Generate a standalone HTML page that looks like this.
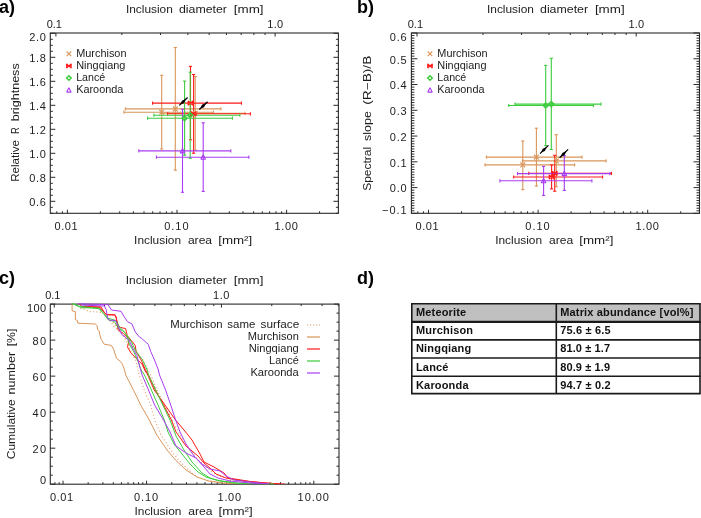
<!DOCTYPE html>
<html><head><meta charset="utf-8"><style>html,body{margin:0;padding:0;background:#fff;width:701px;height:518px;overflow:hidden;position:relative}svg{will-change:transform}text{font-family:"Liberation Sans", sans-serif}</style></head><body>
<svg width="701" height="518" viewBox="0 0 701 518" style="position:absolute;left:0;top:0" font-family='"Liberation Sans", sans-serif'>
<rect width="701" height="518" fill="#fff"/>
<text x="-1.00" y="13.00" font-size="18" text-anchor="start" font-weight="bold" fill="#000">a)</text>
<text x="357.00" y="12.70" font-size="18" text-anchor="start" font-weight="bold" fill="#000">b)</text>
<text x="-1.00" y="284.10" font-size="18" text-anchor="start" font-weight="bold" fill="#000">c)</text>
<text x="357.00" y="284.10" font-size="18" text-anchor="start" font-weight="bold" fill="#000">d)</text>
<rect x="50.30" y="33.00" width="288.10" height="180.30" fill="none" stroke="#2a2a2a" stroke-width="1.1"/>
<line x1="56.78" y1="213.30" x2="56.78" y2="211.30" stroke="#2a2a2a" stroke-width="1"/>
<line x1="62.38" y1="213.30" x2="62.38" y2="211.30" stroke="#2a2a2a" stroke-width="1"/>
<line x1="67.40" y1="213.30" x2="67.40" y2="209.80" stroke="#2a2a2a" stroke-width="1"/>
<line x1="100.39" y1="213.30" x2="100.39" y2="211.30" stroke="#2a2a2a" stroke-width="1"/>
<line x1="119.69" y1="213.30" x2="119.69" y2="211.30" stroke="#2a2a2a" stroke-width="1"/>
<line x1="133.39" y1="213.30" x2="133.39" y2="211.30" stroke="#2a2a2a" stroke-width="1"/>
<line x1="144.01" y1="213.30" x2="144.01" y2="211.30" stroke="#2a2a2a" stroke-width="1"/>
<line x1="152.69" y1="213.30" x2="152.69" y2="211.30" stroke="#2a2a2a" stroke-width="1"/>
<line x1="160.02" y1="213.30" x2="160.02" y2="211.30" stroke="#2a2a2a" stroke-width="1"/>
<line x1="166.38" y1="213.30" x2="166.38" y2="211.30" stroke="#2a2a2a" stroke-width="1"/>
<line x1="171.98" y1="213.30" x2="171.98" y2="211.30" stroke="#2a2a2a" stroke-width="1"/>
<line x1="177.00" y1="213.30" x2="177.00" y2="209.80" stroke="#2a2a2a" stroke-width="1"/>
<line x1="209.99" y1="213.30" x2="209.99" y2="211.30" stroke="#2a2a2a" stroke-width="1"/>
<line x1="229.29" y1="213.30" x2="229.29" y2="211.30" stroke="#2a2a2a" stroke-width="1"/>
<line x1="242.99" y1="213.30" x2="242.99" y2="211.30" stroke="#2a2a2a" stroke-width="1"/>
<line x1="253.61" y1="213.30" x2="253.61" y2="211.30" stroke="#2a2a2a" stroke-width="1"/>
<line x1="262.29" y1="213.30" x2="262.29" y2="211.30" stroke="#2a2a2a" stroke-width="1"/>
<line x1="269.62" y1="213.30" x2="269.62" y2="211.30" stroke="#2a2a2a" stroke-width="1"/>
<line x1="275.98" y1="213.30" x2="275.98" y2="211.30" stroke="#2a2a2a" stroke-width="1"/>
<line x1="281.58" y1="213.30" x2="281.58" y2="211.30" stroke="#2a2a2a" stroke-width="1"/>
<line x1="286.60" y1="213.30" x2="286.60" y2="209.80" stroke="#2a2a2a" stroke-width="1"/>
<line x1="319.59" y1="213.30" x2="319.59" y2="211.30" stroke="#2a2a2a" stroke-width="1"/>
<line x1="55.90" y1="33.00" x2="55.90" y2="36.50" stroke="#2a2a2a" stroke-width="1"/>
<line x1="121.89" y1="33.00" x2="121.89" y2="35.00" stroke="#2a2a2a" stroke-width="1"/>
<line x1="160.49" y1="33.00" x2="160.49" y2="35.00" stroke="#2a2a2a" stroke-width="1"/>
<line x1="187.87" y1="33.00" x2="187.87" y2="35.00" stroke="#2a2a2a" stroke-width="1"/>
<line x1="209.12" y1="33.00" x2="209.12" y2="35.00" stroke="#2a2a2a" stroke-width="1"/>
<line x1="226.47" y1="33.00" x2="226.47" y2="35.00" stroke="#2a2a2a" stroke-width="1"/>
<line x1="241.15" y1="33.00" x2="241.15" y2="35.00" stroke="#2a2a2a" stroke-width="1"/>
<line x1="253.86" y1="33.00" x2="253.86" y2="35.00" stroke="#2a2a2a" stroke-width="1"/>
<line x1="265.07" y1="33.00" x2="265.07" y2="35.00" stroke="#2a2a2a" stroke-width="1"/>
<line x1="275.10" y1="33.00" x2="275.10" y2="36.50" stroke="#2a2a2a" stroke-width="1"/>
<text x="125.90" y="12.60" font-size="11" font-weight="normal" fill="#1c1c1c" textLength="46.9" lengthAdjust="spacingAndGlyphs">Inclusion</text>
<text x="178.90" y="12.60" font-size="11" font-weight="normal" fill="#1c1c1c" textLength="48.1" lengthAdjust="spacingAndGlyphs">diameter</text>
<text x="233.80" y="12.60" font-size="11" font-weight="normal" fill="#1c1c1c" textLength="29.8" lengthAdjust="spacingAndGlyphs">[mm]</text>
<text x="46.70" y="27.90" font-size="11" text-anchor="start" font-weight="normal" fill="#1c1c1c" textLength="15.2" lengthAdjust="spacing">0.1</text>
<text x="267.30" y="28.20" font-size="11" text-anchor="start" font-weight="normal" fill="#1c1c1c" textLength="15.8" lengthAdjust="spacing">1.0</text>
<text x="54.50" y="230.00" font-size="11" text-anchor="start" font-weight="normal" fill="#1c1c1c" textLength="23.0" lengthAdjust="spacing">0.01</text>
<text x="164.20" y="230.00" font-size="11" text-anchor="start" font-weight="normal" fill="#1c1c1c" textLength="24.3" lengthAdjust="spacing">0.10</text>
<text x="274.40" y="230.00" font-size="11" text-anchor="start" font-weight="normal" fill="#1c1c1c" textLength="23.4" lengthAdjust="spacing">1.00</text>
<text x="134.10" y="244.30" font-size="11" font-weight="normal" fill="#1c1c1c" textLength="46.9" lengthAdjust="spacingAndGlyphs">Inclusion</text>
<text x="187.90" y="244.30" font-size="11" font-weight="normal" fill="#1c1c1c" textLength="24.2" lengthAdjust="spacingAndGlyphs">area</text>
<text x="218.20" y="244.30" font-size="11" font-weight="normal" fill="#1c1c1c" textLength="34.1" lengthAdjust="spacingAndGlyphs">[mm&#178;]</text>
<rect x="411.40" y="33.00" width="288.10" height="180.30" fill="none" stroke="#2a2a2a" stroke-width="1.1"/>
<line x1="417.88" y1="213.30" x2="417.88" y2="211.30" stroke="#2a2a2a" stroke-width="1"/>
<line x1="423.48" y1="213.30" x2="423.48" y2="211.30" stroke="#2a2a2a" stroke-width="1"/>
<line x1="428.50" y1="213.30" x2="428.50" y2="209.80" stroke="#2a2a2a" stroke-width="1"/>
<line x1="461.49" y1="213.30" x2="461.49" y2="211.30" stroke="#2a2a2a" stroke-width="1"/>
<line x1="480.79" y1="213.30" x2="480.79" y2="211.30" stroke="#2a2a2a" stroke-width="1"/>
<line x1="494.49" y1="213.30" x2="494.49" y2="211.30" stroke="#2a2a2a" stroke-width="1"/>
<line x1="505.11" y1="213.30" x2="505.11" y2="211.30" stroke="#2a2a2a" stroke-width="1"/>
<line x1="513.79" y1="213.30" x2="513.79" y2="211.30" stroke="#2a2a2a" stroke-width="1"/>
<line x1="521.12" y1="213.30" x2="521.12" y2="211.30" stroke="#2a2a2a" stroke-width="1"/>
<line x1="527.48" y1="213.30" x2="527.48" y2="211.30" stroke="#2a2a2a" stroke-width="1"/>
<line x1="533.08" y1="213.30" x2="533.08" y2="211.30" stroke="#2a2a2a" stroke-width="1"/>
<line x1="538.10" y1="213.30" x2="538.10" y2="209.80" stroke="#2a2a2a" stroke-width="1"/>
<line x1="571.09" y1="213.30" x2="571.09" y2="211.30" stroke="#2a2a2a" stroke-width="1"/>
<line x1="590.39" y1="213.30" x2="590.39" y2="211.30" stroke="#2a2a2a" stroke-width="1"/>
<line x1="604.09" y1="213.30" x2="604.09" y2="211.30" stroke="#2a2a2a" stroke-width="1"/>
<line x1="614.71" y1="213.30" x2="614.71" y2="211.30" stroke="#2a2a2a" stroke-width="1"/>
<line x1="623.39" y1="213.30" x2="623.39" y2="211.30" stroke="#2a2a2a" stroke-width="1"/>
<line x1="630.72" y1="213.30" x2="630.72" y2="211.30" stroke="#2a2a2a" stroke-width="1"/>
<line x1="637.08" y1="213.30" x2="637.08" y2="211.30" stroke="#2a2a2a" stroke-width="1"/>
<line x1="642.68" y1="213.30" x2="642.68" y2="211.30" stroke="#2a2a2a" stroke-width="1"/>
<line x1="647.70" y1="213.30" x2="647.70" y2="209.80" stroke="#2a2a2a" stroke-width="1"/>
<line x1="680.69" y1="213.30" x2="680.69" y2="211.30" stroke="#2a2a2a" stroke-width="1"/>
<line x1="417.00" y1="33.00" x2="417.00" y2="36.50" stroke="#2a2a2a" stroke-width="1"/>
<line x1="482.99" y1="33.00" x2="482.99" y2="35.00" stroke="#2a2a2a" stroke-width="1"/>
<line x1="521.59" y1="33.00" x2="521.59" y2="35.00" stroke="#2a2a2a" stroke-width="1"/>
<line x1="548.97" y1="33.00" x2="548.97" y2="35.00" stroke="#2a2a2a" stroke-width="1"/>
<line x1="570.22" y1="33.00" x2="570.22" y2="35.00" stroke="#2a2a2a" stroke-width="1"/>
<line x1="587.57" y1="33.00" x2="587.57" y2="35.00" stroke="#2a2a2a" stroke-width="1"/>
<line x1="602.25" y1="33.00" x2="602.25" y2="35.00" stroke="#2a2a2a" stroke-width="1"/>
<line x1="614.96" y1="33.00" x2="614.96" y2="35.00" stroke="#2a2a2a" stroke-width="1"/>
<line x1="626.17" y1="33.00" x2="626.17" y2="35.00" stroke="#2a2a2a" stroke-width="1"/>
<line x1="636.20" y1="33.00" x2="636.20" y2="36.50" stroke="#2a2a2a" stroke-width="1"/>
<text x="487.00" y="12.60" font-size="11" font-weight="normal" fill="#1c1c1c" textLength="46.9" lengthAdjust="spacingAndGlyphs">Inclusion</text>
<text x="540.00" y="12.60" font-size="11" font-weight="normal" fill="#1c1c1c" textLength="48.1" lengthAdjust="spacingAndGlyphs">diameter</text>
<text x="594.90" y="12.60" font-size="11" font-weight="normal" fill="#1c1c1c" textLength="29.8" lengthAdjust="spacingAndGlyphs">[mm]</text>
<text x="407.80" y="27.90" font-size="11" text-anchor="start" font-weight="normal" fill="#1c1c1c" textLength="15.2" lengthAdjust="spacing">0.1</text>
<text x="628.40" y="28.20" font-size="11" text-anchor="start" font-weight="normal" fill="#1c1c1c" textLength="15.8" lengthAdjust="spacing">1.0</text>
<text x="415.60" y="230.00" font-size="11" text-anchor="start" font-weight="normal" fill="#1c1c1c" textLength="23.0" lengthAdjust="spacing">0.01</text>
<text x="525.30" y="230.00" font-size="11" text-anchor="start" font-weight="normal" fill="#1c1c1c" textLength="24.3" lengthAdjust="spacing">0.10</text>
<text x="635.50" y="230.00" font-size="11" text-anchor="start" font-weight="normal" fill="#1c1c1c" textLength="23.4" lengthAdjust="spacing">1.00</text>
<text x="495.20" y="244.30" font-size="11" font-weight="normal" fill="#1c1c1c" textLength="46.9" lengthAdjust="spacingAndGlyphs">Inclusion</text>
<text x="549.00" y="244.30" font-size="11" font-weight="normal" fill="#1c1c1c" textLength="24.2" lengthAdjust="spacingAndGlyphs">area</text>
<text x="579.30" y="244.30" font-size="11" font-weight="normal" fill="#1c1c1c" textLength="34.1" lengthAdjust="spacingAndGlyphs">[mm&#178;]</text>
<line x1="50.30" y1="201.30" x2="55.30" y2="201.30" stroke="#2a2a2a" stroke-width="1"/>
<line x1="338.40" y1="201.30" x2="333.40" y2="201.30" stroke="#2a2a2a" stroke-width="1"/>
<line x1="50.30" y1="177.30" x2="55.30" y2="177.30" stroke="#2a2a2a" stroke-width="1"/>
<line x1="338.40" y1="177.30" x2="333.40" y2="177.30" stroke="#2a2a2a" stroke-width="1"/>
<line x1="50.30" y1="153.30" x2="55.30" y2="153.30" stroke="#2a2a2a" stroke-width="1"/>
<line x1="338.40" y1="153.30" x2="333.40" y2="153.30" stroke="#2a2a2a" stroke-width="1"/>
<line x1="50.30" y1="129.30" x2="55.30" y2="129.30" stroke="#2a2a2a" stroke-width="1"/>
<line x1="338.40" y1="129.30" x2="333.40" y2="129.30" stroke="#2a2a2a" stroke-width="1"/>
<line x1="50.30" y1="105.30" x2="55.30" y2="105.30" stroke="#2a2a2a" stroke-width="1"/>
<line x1="338.40" y1="105.30" x2="333.40" y2="105.30" stroke="#2a2a2a" stroke-width="1"/>
<line x1="50.30" y1="81.30" x2="55.30" y2="81.30" stroke="#2a2a2a" stroke-width="1"/>
<line x1="338.40" y1="81.30" x2="333.40" y2="81.30" stroke="#2a2a2a" stroke-width="1"/>
<line x1="50.30" y1="57.30" x2="55.30" y2="57.30" stroke="#2a2a2a" stroke-width="1"/>
<line x1="338.40" y1="57.30" x2="333.40" y2="57.30" stroke="#2a2a2a" stroke-width="1"/>
<line x1="50.30" y1="33.30" x2="55.30" y2="33.30" stroke="#2a2a2a" stroke-width="1"/>
<line x1="338.40" y1="33.30" x2="333.40" y2="33.30" stroke="#2a2a2a" stroke-width="1"/>
<line x1="50.30" y1="213.30" x2="52.80" y2="213.30" stroke="#2a2a2a" stroke-width="1"/>
<line x1="338.40" y1="213.30" x2="335.90" y2="213.30" stroke="#2a2a2a" stroke-width="1"/>
<line x1="50.30" y1="207.30" x2="52.80" y2="207.30" stroke="#2a2a2a" stroke-width="1"/>
<line x1="338.40" y1="207.30" x2="335.90" y2="207.30" stroke="#2a2a2a" stroke-width="1"/>
<line x1="50.30" y1="195.30" x2="52.80" y2="195.30" stroke="#2a2a2a" stroke-width="1"/>
<line x1="338.40" y1="195.30" x2="335.90" y2="195.30" stroke="#2a2a2a" stroke-width="1"/>
<line x1="50.30" y1="189.30" x2="52.80" y2="189.30" stroke="#2a2a2a" stroke-width="1"/>
<line x1="338.40" y1="189.30" x2="335.90" y2="189.30" stroke="#2a2a2a" stroke-width="1"/>
<line x1="50.30" y1="183.30" x2="52.80" y2="183.30" stroke="#2a2a2a" stroke-width="1"/>
<line x1="338.40" y1="183.30" x2="335.90" y2="183.30" stroke="#2a2a2a" stroke-width="1"/>
<line x1="50.30" y1="171.30" x2="52.80" y2="171.30" stroke="#2a2a2a" stroke-width="1"/>
<line x1="338.40" y1="171.30" x2="335.90" y2="171.30" stroke="#2a2a2a" stroke-width="1"/>
<line x1="50.30" y1="165.30" x2="52.80" y2="165.30" stroke="#2a2a2a" stroke-width="1"/>
<line x1="338.40" y1="165.30" x2="335.90" y2="165.30" stroke="#2a2a2a" stroke-width="1"/>
<line x1="50.30" y1="159.30" x2="52.80" y2="159.30" stroke="#2a2a2a" stroke-width="1"/>
<line x1="338.40" y1="159.30" x2="335.90" y2="159.30" stroke="#2a2a2a" stroke-width="1"/>
<line x1="50.30" y1="147.30" x2="52.80" y2="147.30" stroke="#2a2a2a" stroke-width="1"/>
<line x1="338.40" y1="147.30" x2="335.90" y2="147.30" stroke="#2a2a2a" stroke-width="1"/>
<line x1="50.30" y1="141.30" x2="52.80" y2="141.30" stroke="#2a2a2a" stroke-width="1"/>
<line x1="338.40" y1="141.30" x2="335.90" y2="141.30" stroke="#2a2a2a" stroke-width="1"/>
<line x1="50.30" y1="135.30" x2="52.80" y2="135.30" stroke="#2a2a2a" stroke-width="1"/>
<line x1="338.40" y1="135.30" x2="335.90" y2="135.30" stroke="#2a2a2a" stroke-width="1"/>
<line x1="50.30" y1="123.30" x2="52.80" y2="123.30" stroke="#2a2a2a" stroke-width="1"/>
<line x1="338.40" y1="123.30" x2="335.90" y2="123.30" stroke="#2a2a2a" stroke-width="1"/>
<line x1="50.30" y1="117.30" x2="52.80" y2="117.30" stroke="#2a2a2a" stroke-width="1"/>
<line x1="338.40" y1="117.30" x2="335.90" y2="117.30" stroke="#2a2a2a" stroke-width="1"/>
<line x1="50.30" y1="111.30" x2="52.80" y2="111.30" stroke="#2a2a2a" stroke-width="1"/>
<line x1="338.40" y1="111.30" x2="335.90" y2="111.30" stroke="#2a2a2a" stroke-width="1"/>
<line x1="50.30" y1="99.30" x2="52.80" y2="99.30" stroke="#2a2a2a" stroke-width="1"/>
<line x1="338.40" y1="99.30" x2="335.90" y2="99.30" stroke="#2a2a2a" stroke-width="1"/>
<line x1="50.30" y1="93.30" x2="52.80" y2="93.30" stroke="#2a2a2a" stroke-width="1"/>
<line x1="338.40" y1="93.30" x2="335.90" y2="93.30" stroke="#2a2a2a" stroke-width="1"/>
<line x1="50.30" y1="87.30" x2="52.80" y2="87.30" stroke="#2a2a2a" stroke-width="1"/>
<line x1="338.40" y1="87.30" x2="335.90" y2="87.30" stroke="#2a2a2a" stroke-width="1"/>
<line x1="50.30" y1="75.30" x2="52.80" y2="75.30" stroke="#2a2a2a" stroke-width="1"/>
<line x1="338.40" y1="75.30" x2="335.90" y2="75.30" stroke="#2a2a2a" stroke-width="1"/>
<line x1="50.30" y1="69.30" x2="52.80" y2="69.30" stroke="#2a2a2a" stroke-width="1"/>
<line x1="338.40" y1="69.30" x2="335.90" y2="69.30" stroke="#2a2a2a" stroke-width="1"/>
<line x1="50.30" y1="63.30" x2="52.80" y2="63.30" stroke="#2a2a2a" stroke-width="1"/>
<line x1="338.40" y1="63.30" x2="335.90" y2="63.30" stroke="#2a2a2a" stroke-width="1"/>
<line x1="50.30" y1="51.30" x2="52.80" y2="51.30" stroke="#2a2a2a" stroke-width="1"/>
<line x1="338.40" y1="51.30" x2="335.90" y2="51.30" stroke="#2a2a2a" stroke-width="1"/>
<line x1="50.30" y1="45.30" x2="52.80" y2="45.30" stroke="#2a2a2a" stroke-width="1"/>
<line x1="338.40" y1="45.30" x2="335.90" y2="45.30" stroke="#2a2a2a" stroke-width="1"/>
<line x1="50.30" y1="39.30" x2="52.80" y2="39.30" stroke="#2a2a2a" stroke-width="1"/>
<line x1="338.40" y1="39.30" x2="335.90" y2="39.30" stroke="#2a2a2a" stroke-width="1"/>
<text x="45.90" y="206.30" font-size="11" text-anchor="end" font-weight="normal" fill="#1c1c1c" textLength="16.6" lengthAdjust="spacing">0.6</text>
<text x="45.90" y="182.30" font-size="11" text-anchor="end" font-weight="normal" fill="#1c1c1c" textLength="16.6" lengthAdjust="spacing">0.8</text>
<text x="45.90" y="158.30" font-size="11" text-anchor="end" font-weight="normal" fill="#1c1c1c" textLength="16.6" lengthAdjust="spacing">1.0</text>
<text x="45.90" y="134.30" font-size="11" text-anchor="end" font-weight="normal" fill="#1c1c1c" textLength="16.6" lengthAdjust="spacing">1.2</text>
<text x="45.90" y="110.30" font-size="11" text-anchor="end" font-weight="normal" fill="#1c1c1c" textLength="16.6" lengthAdjust="spacing">1.4</text>
<text x="45.90" y="86.30" font-size="11" text-anchor="end" font-weight="normal" fill="#1c1c1c" textLength="16.6" lengthAdjust="spacing">1.6</text>
<text x="45.90" y="62.30" font-size="11" text-anchor="end" font-weight="normal" fill="#1c1c1c" textLength="16.6" lengthAdjust="spacing">1.8</text>
<text x="45.90" y="40.70" font-size="11" text-anchor="end" font-weight="normal" fill="#1c1c1c" textLength="16.6" lengthAdjust="spacing">2.0</text>
<text transform="translate(19.00,181.80) rotate(-90)" font-size="11" fill="#1c1c1c" textLength="41.8" lengthAdjust="spacingAndGlyphs">Relative</text>
<text transform="translate(19.00,134.10) rotate(-90)" font-size="11" fill="#1c1c1c" textLength="6.8" lengthAdjust="spacingAndGlyphs">R</text>
<text transform="translate(19.00,121.30) rotate(-90)" font-size="11" fill="#1c1c1c" textLength="58.0" lengthAdjust="spacingAndGlyphs">brightness</text>
<line x1="411.40" y1="213.37" x2="417.40" y2="213.37" stroke="#2a2a2a" stroke-width="1"/>
<line x1="699.50" y1="213.37" x2="693.50" y2="213.37" stroke="#2a2a2a" stroke-width="1"/>
<line x1="411.40" y1="187.60" x2="417.40" y2="187.60" stroke="#2a2a2a" stroke-width="1"/>
<line x1="699.50" y1="187.60" x2="693.50" y2="187.60" stroke="#2a2a2a" stroke-width="1"/>
<line x1="411.40" y1="161.83" x2="417.40" y2="161.83" stroke="#2a2a2a" stroke-width="1"/>
<line x1="699.50" y1="161.83" x2="693.50" y2="161.83" stroke="#2a2a2a" stroke-width="1"/>
<line x1="411.40" y1="136.06" x2="417.40" y2="136.06" stroke="#2a2a2a" stroke-width="1"/>
<line x1="699.50" y1="136.06" x2="693.50" y2="136.06" stroke="#2a2a2a" stroke-width="1"/>
<line x1="411.40" y1="110.29" x2="417.40" y2="110.29" stroke="#2a2a2a" stroke-width="1"/>
<line x1="699.50" y1="110.29" x2="693.50" y2="110.29" stroke="#2a2a2a" stroke-width="1"/>
<line x1="411.40" y1="84.52" x2="417.40" y2="84.52" stroke="#2a2a2a" stroke-width="1"/>
<line x1="699.50" y1="84.52" x2="693.50" y2="84.52" stroke="#2a2a2a" stroke-width="1"/>
<line x1="411.40" y1="58.75" x2="417.40" y2="58.75" stroke="#2a2a2a" stroke-width="1"/>
<line x1="699.50" y1="58.75" x2="693.50" y2="58.75" stroke="#2a2a2a" stroke-width="1"/>
<line x1="411.40" y1="32.98" x2="417.40" y2="32.98" stroke="#2a2a2a" stroke-width="1"/>
<line x1="699.50" y1="32.98" x2="693.50" y2="32.98" stroke="#2a2a2a" stroke-width="1"/>
<line x1="411.40" y1="210.79" x2="414.40" y2="210.79" stroke="#2a2a2a" stroke-width="1"/>
<line x1="699.50" y1="210.79" x2="696.50" y2="210.79" stroke="#2a2a2a" stroke-width="1"/>
<line x1="411.40" y1="208.22" x2="414.40" y2="208.22" stroke="#2a2a2a" stroke-width="1"/>
<line x1="699.50" y1="208.22" x2="696.50" y2="208.22" stroke="#2a2a2a" stroke-width="1"/>
<line x1="411.40" y1="205.64" x2="414.40" y2="205.64" stroke="#2a2a2a" stroke-width="1"/>
<line x1="699.50" y1="205.64" x2="696.50" y2="205.64" stroke="#2a2a2a" stroke-width="1"/>
<line x1="411.40" y1="203.06" x2="414.40" y2="203.06" stroke="#2a2a2a" stroke-width="1"/>
<line x1="699.50" y1="203.06" x2="696.50" y2="203.06" stroke="#2a2a2a" stroke-width="1"/>
<line x1="411.40" y1="200.48" x2="414.40" y2="200.48" stroke="#2a2a2a" stroke-width="1"/>
<line x1="699.50" y1="200.48" x2="696.50" y2="200.48" stroke="#2a2a2a" stroke-width="1"/>
<line x1="411.40" y1="197.91" x2="414.40" y2="197.91" stroke="#2a2a2a" stroke-width="1"/>
<line x1="699.50" y1="197.91" x2="696.50" y2="197.91" stroke="#2a2a2a" stroke-width="1"/>
<line x1="411.40" y1="195.33" x2="414.40" y2="195.33" stroke="#2a2a2a" stroke-width="1"/>
<line x1="699.50" y1="195.33" x2="696.50" y2="195.33" stroke="#2a2a2a" stroke-width="1"/>
<line x1="411.40" y1="192.75" x2="414.40" y2="192.75" stroke="#2a2a2a" stroke-width="1"/>
<line x1="699.50" y1="192.75" x2="696.50" y2="192.75" stroke="#2a2a2a" stroke-width="1"/>
<line x1="411.40" y1="190.18" x2="414.40" y2="190.18" stroke="#2a2a2a" stroke-width="1"/>
<line x1="699.50" y1="190.18" x2="696.50" y2="190.18" stroke="#2a2a2a" stroke-width="1"/>
<line x1="411.40" y1="185.02" x2="414.40" y2="185.02" stroke="#2a2a2a" stroke-width="1"/>
<line x1="699.50" y1="185.02" x2="696.50" y2="185.02" stroke="#2a2a2a" stroke-width="1"/>
<line x1="411.40" y1="182.45" x2="414.40" y2="182.45" stroke="#2a2a2a" stroke-width="1"/>
<line x1="699.50" y1="182.45" x2="696.50" y2="182.45" stroke="#2a2a2a" stroke-width="1"/>
<line x1="411.40" y1="179.87" x2="414.40" y2="179.87" stroke="#2a2a2a" stroke-width="1"/>
<line x1="699.50" y1="179.87" x2="696.50" y2="179.87" stroke="#2a2a2a" stroke-width="1"/>
<line x1="411.40" y1="177.29" x2="414.40" y2="177.29" stroke="#2a2a2a" stroke-width="1"/>
<line x1="699.50" y1="177.29" x2="696.50" y2="177.29" stroke="#2a2a2a" stroke-width="1"/>
<line x1="411.40" y1="174.72" x2="414.40" y2="174.72" stroke="#2a2a2a" stroke-width="1"/>
<line x1="699.50" y1="174.72" x2="696.50" y2="174.72" stroke="#2a2a2a" stroke-width="1"/>
<line x1="411.40" y1="172.14" x2="414.40" y2="172.14" stroke="#2a2a2a" stroke-width="1"/>
<line x1="699.50" y1="172.14" x2="696.50" y2="172.14" stroke="#2a2a2a" stroke-width="1"/>
<line x1="411.40" y1="169.56" x2="414.40" y2="169.56" stroke="#2a2a2a" stroke-width="1"/>
<line x1="699.50" y1="169.56" x2="696.50" y2="169.56" stroke="#2a2a2a" stroke-width="1"/>
<line x1="411.40" y1="166.98" x2="414.40" y2="166.98" stroke="#2a2a2a" stroke-width="1"/>
<line x1="699.50" y1="166.98" x2="696.50" y2="166.98" stroke="#2a2a2a" stroke-width="1"/>
<line x1="411.40" y1="164.41" x2="414.40" y2="164.41" stroke="#2a2a2a" stroke-width="1"/>
<line x1="699.50" y1="164.41" x2="696.50" y2="164.41" stroke="#2a2a2a" stroke-width="1"/>
<line x1="411.40" y1="159.25" x2="414.40" y2="159.25" stroke="#2a2a2a" stroke-width="1"/>
<line x1="699.50" y1="159.25" x2="696.50" y2="159.25" stroke="#2a2a2a" stroke-width="1"/>
<line x1="411.40" y1="156.68" x2="414.40" y2="156.68" stroke="#2a2a2a" stroke-width="1"/>
<line x1="699.50" y1="156.68" x2="696.50" y2="156.68" stroke="#2a2a2a" stroke-width="1"/>
<line x1="411.40" y1="154.10" x2="414.40" y2="154.10" stroke="#2a2a2a" stroke-width="1"/>
<line x1="699.50" y1="154.10" x2="696.50" y2="154.10" stroke="#2a2a2a" stroke-width="1"/>
<line x1="411.40" y1="151.52" x2="414.40" y2="151.52" stroke="#2a2a2a" stroke-width="1"/>
<line x1="699.50" y1="151.52" x2="696.50" y2="151.52" stroke="#2a2a2a" stroke-width="1"/>
<line x1="411.40" y1="148.94" x2="414.40" y2="148.94" stroke="#2a2a2a" stroke-width="1"/>
<line x1="699.50" y1="148.94" x2="696.50" y2="148.94" stroke="#2a2a2a" stroke-width="1"/>
<line x1="411.40" y1="146.37" x2="414.40" y2="146.37" stroke="#2a2a2a" stroke-width="1"/>
<line x1="699.50" y1="146.37" x2="696.50" y2="146.37" stroke="#2a2a2a" stroke-width="1"/>
<line x1="411.40" y1="143.79" x2="414.40" y2="143.79" stroke="#2a2a2a" stroke-width="1"/>
<line x1="699.50" y1="143.79" x2="696.50" y2="143.79" stroke="#2a2a2a" stroke-width="1"/>
<line x1="411.40" y1="141.21" x2="414.40" y2="141.21" stroke="#2a2a2a" stroke-width="1"/>
<line x1="699.50" y1="141.21" x2="696.50" y2="141.21" stroke="#2a2a2a" stroke-width="1"/>
<line x1="411.40" y1="138.64" x2="414.40" y2="138.64" stroke="#2a2a2a" stroke-width="1"/>
<line x1="699.50" y1="138.64" x2="696.50" y2="138.64" stroke="#2a2a2a" stroke-width="1"/>
<line x1="411.40" y1="133.48" x2="414.40" y2="133.48" stroke="#2a2a2a" stroke-width="1"/>
<line x1="699.50" y1="133.48" x2="696.50" y2="133.48" stroke="#2a2a2a" stroke-width="1"/>
<line x1="411.40" y1="130.91" x2="414.40" y2="130.91" stroke="#2a2a2a" stroke-width="1"/>
<line x1="699.50" y1="130.91" x2="696.50" y2="130.91" stroke="#2a2a2a" stroke-width="1"/>
<line x1="411.40" y1="128.33" x2="414.40" y2="128.33" stroke="#2a2a2a" stroke-width="1"/>
<line x1="699.50" y1="128.33" x2="696.50" y2="128.33" stroke="#2a2a2a" stroke-width="1"/>
<line x1="411.40" y1="125.75" x2="414.40" y2="125.75" stroke="#2a2a2a" stroke-width="1"/>
<line x1="699.50" y1="125.75" x2="696.50" y2="125.75" stroke="#2a2a2a" stroke-width="1"/>
<line x1="411.40" y1="123.17" x2="414.40" y2="123.17" stroke="#2a2a2a" stroke-width="1"/>
<line x1="699.50" y1="123.17" x2="696.50" y2="123.17" stroke="#2a2a2a" stroke-width="1"/>
<line x1="411.40" y1="120.60" x2="414.40" y2="120.60" stroke="#2a2a2a" stroke-width="1"/>
<line x1="699.50" y1="120.60" x2="696.50" y2="120.60" stroke="#2a2a2a" stroke-width="1"/>
<line x1="411.40" y1="118.02" x2="414.40" y2="118.02" stroke="#2a2a2a" stroke-width="1"/>
<line x1="699.50" y1="118.02" x2="696.50" y2="118.02" stroke="#2a2a2a" stroke-width="1"/>
<line x1="411.40" y1="115.44" x2="414.40" y2="115.44" stroke="#2a2a2a" stroke-width="1"/>
<line x1="699.50" y1="115.44" x2="696.50" y2="115.44" stroke="#2a2a2a" stroke-width="1"/>
<line x1="411.40" y1="112.87" x2="414.40" y2="112.87" stroke="#2a2a2a" stroke-width="1"/>
<line x1="699.50" y1="112.87" x2="696.50" y2="112.87" stroke="#2a2a2a" stroke-width="1"/>
<line x1="411.40" y1="107.71" x2="414.40" y2="107.71" stroke="#2a2a2a" stroke-width="1"/>
<line x1="699.50" y1="107.71" x2="696.50" y2="107.71" stroke="#2a2a2a" stroke-width="1"/>
<line x1="411.40" y1="105.14" x2="414.40" y2="105.14" stroke="#2a2a2a" stroke-width="1"/>
<line x1="699.50" y1="105.14" x2="696.50" y2="105.14" stroke="#2a2a2a" stroke-width="1"/>
<line x1="411.40" y1="102.56" x2="414.40" y2="102.56" stroke="#2a2a2a" stroke-width="1"/>
<line x1="699.50" y1="102.56" x2="696.50" y2="102.56" stroke="#2a2a2a" stroke-width="1"/>
<line x1="411.40" y1="99.98" x2="414.40" y2="99.98" stroke="#2a2a2a" stroke-width="1"/>
<line x1="699.50" y1="99.98" x2="696.50" y2="99.98" stroke="#2a2a2a" stroke-width="1"/>
<line x1="411.40" y1="97.41" x2="414.40" y2="97.41" stroke="#2a2a2a" stroke-width="1"/>
<line x1="699.50" y1="97.41" x2="696.50" y2="97.41" stroke="#2a2a2a" stroke-width="1"/>
<line x1="411.40" y1="94.83" x2="414.40" y2="94.83" stroke="#2a2a2a" stroke-width="1"/>
<line x1="699.50" y1="94.83" x2="696.50" y2="94.83" stroke="#2a2a2a" stroke-width="1"/>
<line x1="411.40" y1="92.25" x2="414.40" y2="92.25" stroke="#2a2a2a" stroke-width="1"/>
<line x1="699.50" y1="92.25" x2="696.50" y2="92.25" stroke="#2a2a2a" stroke-width="1"/>
<line x1="411.40" y1="89.67" x2="414.40" y2="89.67" stroke="#2a2a2a" stroke-width="1"/>
<line x1="699.50" y1="89.67" x2="696.50" y2="89.67" stroke="#2a2a2a" stroke-width="1"/>
<line x1="411.40" y1="87.10" x2="414.40" y2="87.10" stroke="#2a2a2a" stroke-width="1"/>
<line x1="699.50" y1="87.10" x2="696.50" y2="87.10" stroke="#2a2a2a" stroke-width="1"/>
<line x1="411.40" y1="81.94" x2="414.40" y2="81.94" stroke="#2a2a2a" stroke-width="1"/>
<line x1="699.50" y1="81.94" x2="696.50" y2="81.94" stroke="#2a2a2a" stroke-width="1"/>
<line x1="411.40" y1="79.37" x2="414.40" y2="79.37" stroke="#2a2a2a" stroke-width="1"/>
<line x1="699.50" y1="79.37" x2="696.50" y2="79.37" stroke="#2a2a2a" stroke-width="1"/>
<line x1="411.40" y1="76.79" x2="414.40" y2="76.79" stroke="#2a2a2a" stroke-width="1"/>
<line x1="699.50" y1="76.79" x2="696.50" y2="76.79" stroke="#2a2a2a" stroke-width="1"/>
<line x1="411.40" y1="74.21" x2="414.40" y2="74.21" stroke="#2a2a2a" stroke-width="1"/>
<line x1="699.50" y1="74.21" x2="696.50" y2="74.21" stroke="#2a2a2a" stroke-width="1"/>
<line x1="411.40" y1="71.63" x2="414.40" y2="71.63" stroke="#2a2a2a" stroke-width="1"/>
<line x1="699.50" y1="71.63" x2="696.50" y2="71.63" stroke="#2a2a2a" stroke-width="1"/>
<line x1="411.40" y1="69.06" x2="414.40" y2="69.06" stroke="#2a2a2a" stroke-width="1"/>
<line x1="699.50" y1="69.06" x2="696.50" y2="69.06" stroke="#2a2a2a" stroke-width="1"/>
<line x1="411.40" y1="66.48" x2="414.40" y2="66.48" stroke="#2a2a2a" stroke-width="1"/>
<line x1="699.50" y1="66.48" x2="696.50" y2="66.48" stroke="#2a2a2a" stroke-width="1"/>
<line x1="411.40" y1="63.90" x2="414.40" y2="63.90" stroke="#2a2a2a" stroke-width="1"/>
<line x1="699.50" y1="63.90" x2="696.50" y2="63.90" stroke="#2a2a2a" stroke-width="1"/>
<line x1="411.40" y1="61.33" x2="414.40" y2="61.33" stroke="#2a2a2a" stroke-width="1"/>
<line x1="699.50" y1="61.33" x2="696.50" y2="61.33" stroke="#2a2a2a" stroke-width="1"/>
<line x1="411.40" y1="56.17" x2="414.40" y2="56.17" stroke="#2a2a2a" stroke-width="1"/>
<line x1="699.50" y1="56.17" x2="696.50" y2="56.17" stroke="#2a2a2a" stroke-width="1"/>
<line x1="411.40" y1="53.60" x2="414.40" y2="53.60" stroke="#2a2a2a" stroke-width="1"/>
<line x1="699.50" y1="53.60" x2="696.50" y2="53.60" stroke="#2a2a2a" stroke-width="1"/>
<line x1="411.40" y1="51.02" x2="414.40" y2="51.02" stroke="#2a2a2a" stroke-width="1"/>
<line x1="699.50" y1="51.02" x2="696.50" y2="51.02" stroke="#2a2a2a" stroke-width="1"/>
<line x1="411.40" y1="48.44" x2="414.40" y2="48.44" stroke="#2a2a2a" stroke-width="1"/>
<line x1="699.50" y1="48.44" x2="696.50" y2="48.44" stroke="#2a2a2a" stroke-width="1"/>
<line x1="411.40" y1="45.86" x2="414.40" y2="45.86" stroke="#2a2a2a" stroke-width="1"/>
<line x1="699.50" y1="45.86" x2="696.50" y2="45.86" stroke="#2a2a2a" stroke-width="1"/>
<line x1="411.40" y1="43.29" x2="414.40" y2="43.29" stroke="#2a2a2a" stroke-width="1"/>
<line x1="699.50" y1="43.29" x2="696.50" y2="43.29" stroke="#2a2a2a" stroke-width="1"/>
<line x1="411.40" y1="40.71" x2="414.40" y2="40.71" stroke="#2a2a2a" stroke-width="1"/>
<line x1="699.50" y1="40.71" x2="696.50" y2="40.71" stroke="#2a2a2a" stroke-width="1"/>
<line x1="411.40" y1="38.13" x2="414.40" y2="38.13" stroke="#2a2a2a" stroke-width="1"/>
<line x1="699.50" y1="38.13" x2="696.50" y2="38.13" stroke="#2a2a2a" stroke-width="1"/>
<line x1="411.40" y1="35.56" x2="414.40" y2="35.56" stroke="#2a2a2a" stroke-width="1"/>
<line x1="699.50" y1="35.56" x2="696.50" y2="35.56" stroke="#2a2a2a" stroke-width="1"/>
<text x="406.60" y="40.60" font-size="11" text-anchor="end" font-weight="normal" fill="#1c1c1c" textLength="16.8" lengthAdjust="spacing">0.6</text>
<text x="406.60" y="63.55" font-size="11" text-anchor="end" font-weight="normal" fill="#1c1c1c" textLength="16.8" lengthAdjust="spacing">0.5</text>
<text x="406.60" y="89.32" font-size="11" text-anchor="end" font-weight="normal" fill="#1c1c1c" textLength="16.8" lengthAdjust="spacing">0.4</text>
<text x="406.60" y="115.09" font-size="11" text-anchor="end" font-weight="normal" fill="#1c1c1c" textLength="16.8" lengthAdjust="spacing">0.3</text>
<text x="406.60" y="140.86" font-size="11" text-anchor="end" font-weight="normal" fill="#1c1c1c" textLength="16.8" lengthAdjust="spacing">0.2</text>
<text x="406.60" y="166.63" font-size="11" text-anchor="end" font-weight="normal" fill="#1c1c1c" textLength="16.8" lengthAdjust="spacing">0.1</text>
<text x="406.60" y="192.40" font-size="11" text-anchor="end" font-weight="normal" fill="#1c1c1c" textLength="16.8" lengthAdjust="spacing">0.0</text>
<text x="406.60" y="213.60" font-size="11" text-anchor="end" font-weight="normal" fill="#1c1c1c" textLength="24.5" lengthAdjust="spacing">&#8722;0.1</text>
<text transform="translate(371.00,190.80) rotate(-90)" font-size="11" fill="#1c1c1c" textLength="43.9" lengthAdjust="spacingAndGlyphs">Spectral</text>
<text transform="translate(371.00,140.90) rotate(-90)" font-size="11" fill="#1c1c1c" textLength="29.8" lengthAdjust="spacingAndGlyphs">slope</text>
<text transform="translate(371.00,104.80) rotate(-90)" font-size="11" fill="#1c1c1c" textLength="49.1" lengthAdjust="spacingAndGlyphs">(R&#8722;B)/B</text>
<line x1="161.70" y1="75.30" x2="161.70" y2="149.00" stroke="#d9955a" stroke-width="1.1"/>
<line x1="123.90" y1="112.20" x2="213.50" y2="112.20" stroke="#d9955a" stroke-width="1.1"/>
<line x1="160.10" y1="75.30" x2="163.30" y2="75.30" stroke="#d9955a" stroke-width="1.1"/>
<line x1="160.10" y1="149.00" x2="163.30" y2="149.00" stroke="#d9955a" stroke-width="1.1"/>
<line x1="123.90" y1="110.60" x2="123.90" y2="113.80" stroke="#d9955a" stroke-width="1.1"/>
<line x1="213.50" y1="110.60" x2="213.50" y2="113.80" stroke="#d9955a" stroke-width="1.1"/>
<line x1="175.30" y1="47.50" x2="175.30" y2="170.20" stroke="#d9955a" stroke-width="1.1"/>
<line x1="125.30" y1="108.90" x2="220.90" y2="108.90" stroke="#d9955a" stroke-width="1.1"/>
<line x1="173.70" y1="47.50" x2="176.90" y2="47.50" stroke="#d9955a" stroke-width="1.1"/>
<line x1="173.70" y1="170.20" x2="176.90" y2="170.20" stroke="#d9955a" stroke-width="1.1"/>
<line x1="125.30" y1="107.30" x2="125.30" y2="110.50" stroke="#d9955a" stroke-width="1.1"/>
<line x1="220.90" y1="107.30" x2="220.90" y2="110.50" stroke="#d9955a" stroke-width="1.1"/>
<line x1="195.20" y1="76.50" x2="195.20" y2="150.10" stroke="#d9955a" stroke-width="1.1"/>
<line x1="161.40" y1="113.30" x2="245.00" y2="113.30" stroke="#d9955a" stroke-width="1.1"/>
<line x1="193.60" y1="76.50" x2="196.80" y2="76.50" stroke="#d9955a" stroke-width="1.1"/>
<line x1="193.60" y1="150.10" x2="196.80" y2="150.10" stroke="#d9955a" stroke-width="1.1"/>
<line x1="161.40" y1="111.70" x2="161.40" y2="114.90" stroke="#d9955a" stroke-width="1.1"/>
<line x1="245.00" y1="111.70" x2="245.00" y2="114.90" stroke="#d9955a" stroke-width="1.1"/>
<line x1="190.50" y1="66.40" x2="190.50" y2="139.80" stroke="#ff1a1a" stroke-width="1.1"/>
<line x1="152.60" y1="103.10" x2="241.50" y2="103.10" stroke="#ff1a1a" stroke-width="1.1"/>
<line x1="188.90" y1="66.40" x2="192.10" y2="66.40" stroke="#ff1a1a" stroke-width="1.1"/>
<line x1="188.90" y1="139.80" x2="192.10" y2="139.80" stroke="#ff1a1a" stroke-width="1.1"/>
<line x1="152.60" y1="101.50" x2="152.60" y2="104.70" stroke="#ff1a1a" stroke-width="1.1"/>
<line x1="241.50" y1="101.50" x2="241.50" y2="104.70" stroke="#ff1a1a" stroke-width="1.1"/>
<line x1="193.60" y1="74.50" x2="193.60" y2="153.20" stroke="#ff1a1a" stroke-width="1.1"/>
<line x1="167.60" y1="113.80" x2="250.40" y2="113.80" stroke="#ff1a1a" stroke-width="1.1"/>
<line x1="192.00" y1="74.50" x2="195.20" y2="74.50" stroke="#ff1a1a" stroke-width="1.1"/>
<line x1="192.00" y1="153.20" x2="195.20" y2="153.20" stroke="#ff1a1a" stroke-width="1.1"/>
<line x1="167.60" y1="112.20" x2="167.60" y2="115.40" stroke="#ff1a1a" stroke-width="1.1"/>
<line x1="250.40" y1="112.20" x2="250.40" y2="115.40" stroke="#ff1a1a" stroke-width="1.1"/>
<line x1="184.60" y1="81.10" x2="184.60" y2="155.20" stroke="#3ccc3c" stroke-width="1.1"/>
<line x1="147.60" y1="118.20" x2="232.40" y2="118.20" stroke="#3ccc3c" stroke-width="1.1"/>
<line x1="183.00" y1="81.10" x2="186.20" y2="81.10" stroke="#3ccc3c" stroke-width="1.1"/>
<line x1="183.00" y1="155.20" x2="186.20" y2="155.20" stroke="#3ccc3c" stroke-width="1.1"/>
<line x1="147.60" y1="116.60" x2="147.60" y2="119.80" stroke="#3ccc3c" stroke-width="1.1"/>
<line x1="232.40" y1="116.60" x2="232.40" y2="119.80" stroke="#3ccc3c" stroke-width="1.1"/>
<line x1="190.20" y1="72.20" x2="190.20" y2="158.30" stroke="#3ccc3c" stroke-width="1.1"/>
<line x1="153.90" y1="115.20" x2="239.90" y2="115.20" stroke="#3ccc3c" stroke-width="1.1"/>
<line x1="188.60" y1="72.20" x2="191.80" y2="72.20" stroke="#3ccc3c" stroke-width="1.1"/>
<line x1="188.60" y1="158.30" x2="191.80" y2="158.30" stroke="#3ccc3c" stroke-width="1.1"/>
<line x1="153.90" y1="113.60" x2="153.90" y2="116.80" stroke="#3ccc3c" stroke-width="1.1"/>
<line x1="239.90" y1="113.60" x2="239.90" y2="116.80" stroke="#3ccc3c" stroke-width="1.1"/>
<line x1="182.50" y1="109.20" x2="182.50" y2="192.30" stroke="#a83cf0" stroke-width="1.1"/>
<line x1="138.80" y1="150.90" x2="230.80" y2="150.90" stroke="#a83cf0" stroke-width="1.1"/>
<line x1="180.90" y1="109.20" x2="184.10" y2="109.20" stroke="#a83cf0" stroke-width="1.1"/>
<line x1="180.90" y1="192.30" x2="184.10" y2="192.30" stroke="#a83cf0" stroke-width="1.1"/>
<line x1="138.80" y1="149.30" x2="138.80" y2="152.50" stroke="#a83cf0" stroke-width="1.1"/>
<line x1="230.80" y1="149.30" x2="230.80" y2="152.50" stroke="#a83cf0" stroke-width="1.1"/>
<line x1="203.20" y1="122.80" x2="203.20" y2="191.40" stroke="#a83cf0" stroke-width="1.1"/>
<line x1="156.40" y1="157.20" x2="248.90" y2="157.20" stroke="#a83cf0" stroke-width="1.1"/>
<line x1="201.60" y1="122.80" x2="204.80" y2="122.80" stroke="#a83cf0" stroke-width="1.1"/>
<line x1="201.60" y1="191.40" x2="204.80" y2="191.40" stroke="#a83cf0" stroke-width="1.1"/>
<line x1="156.40" y1="155.60" x2="156.40" y2="158.80" stroke="#a83cf0" stroke-width="1.1"/>
<line x1="248.90" y1="155.60" x2="248.90" y2="158.80" stroke="#a83cf0" stroke-width="1.1"/>
<path d="M159.3,109.8L164.1,114.6M159.3,114.6L164.1,109.8" stroke="#d9955a" stroke-width="1.1" fill="none"/>
<path d="M172.9,106.5L177.7,111.3M172.9,111.3L177.7,106.5" stroke="#d9955a" stroke-width="1.1" fill="none"/>
<path d="M192.8,110.9L197.6,115.7M192.8,115.7L197.6,110.9" stroke="#d9955a" stroke-width="1.1" fill="none"/>
<path d="M188.1,100.9L192.9,105.3L192.9,100.9L188.1,105.3Z" stroke="#ff1a1a" stroke-width="1.1" fill="none" stroke-linejoin="bevel"/>
<path d="M191.2,111.6L196.0,116.0L196.0,111.6L191.2,116.0Z" stroke="#ff1a1a" stroke-width="1.1" fill="none" stroke-linejoin="bevel"/>
<path d="M184.6,115.7L187.1,118.2L184.6,120.7L182.1,118.2Z" stroke="#3ccc3c" stroke-width="1.5" fill="none"/>
<path d="M190.2,112.7L192.7,115.2L190.2,117.7L187.7,115.2Z" stroke="#3ccc3c" stroke-width="1.5" fill="none"/>
<path d="M182.5,148.5L184.8,152.9L180.2,152.9Z" stroke="#a83cf0" stroke-width="1.1" fill="none" stroke-linejoin="bevel"/>
<path d="M203.2,154.8L205.5,159.2L200.9,159.2Z" stroke="#a83cf0" stroke-width="1.1" fill="none" stroke-linejoin="bevel"/>
<line x1="522.80" y1="141.00" x2="522.80" y2="189.60" stroke="#d9955a" stroke-width="1.1"/>
<line x1="485.00" y1="164.90" x2="574.60" y2="164.90" stroke="#d9955a" stroke-width="1.1"/>
<line x1="521.20" y1="141.00" x2="524.40" y2="141.00" stroke="#d9955a" stroke-width="1.1"/>
<line x1="521.20" y1="189.60" x2="524.40" y2="189.60" stroke="#d9955a" stroke-width="1.1"/>
<line x1="485.00" y1="163.30" x2="485.00" y2="166.50" stroke="#d9955a" stroke-width="1.1"/>
<line x1="574.60" y1="163.30" x2="574.60" y2="166.50" stroke="#d9955a" stroke-width="1.1"/>
<line x1="536.40" y1="128.20" x2="536.40" y2="186.10" stroke="#d9955a" stroke-width="1.1"/>
<line x1="486.40" y1="157.10" x2="582.00" y2="157.10" stroke="#d9955a" stroke-width="1.1"/>
<line x1="534.80" y1="128.20" x2="538.00" y2="128.20" stroke="#d9955a" stroke-width="1.1"/>
<line x1="534.80" y1="186.10" x2="538.00" y2="186.10" stroke="#d9955a" stroke-width="1.1"/>
<line x1="486.40" y1="155.50" x2="486.40" y2="158.70" stroke="#d9955a" stroke-width="1.1"/>
<line x1="582.00" y1="155.50" x2="582.00" y2="158.70" stroke="#d9955a" stroke-width="1.1"/>
<line x1="556.30" y1="134.70" x2="556.30" y2="186.70" stroke="#d9955a" stroke-width="1.1"/>
<line x1="522.50" y1="160.90" x2="606.10" y2="160.90" stroke="#d9955a" stroke-width="1.1"/>
<line x1="554.70" y1="134.70" x2="557.90" y2="134.70" stroke="#d9955a" stroke-width="1.1"/>
<line x1="554.70" y1="186.70" x2="557.90" y2="186.70" stroke="#d9955a" stroke-width="1.1"/>
<line x1="522.50" y1="159.30" x2="522.50" y2="162.50" stroke="#d9955a" stroke-width="1.1"/>
<line x1="606.10" y1="159.30" x2="606.10" y2="162.50" stroke="#d9955a" stroke-width="1.1"/>
<line x1="551.60" y1="164.90" x2="551.60" y2="188.90" stroke="#ff1a1a" stroke-width="1.1"/>
<line x1="513.70" y1="177.00" x2="602.60" y2="177.00" stroke="#ff1a1a" stroke-width="1.1"/>
<line x1="550.00" y1="164.90" x2="553.20" y2="164.90" stroke="#ff1a1a" stroke-width="1.1"/>
<line x1="550.00" y1="188.90" x2="553.20" y2="188.90" stroke="#ff1a1a" stroke-width="1.1"/>
<line x1="513.70" y1="175.40" x2="513.70" y2="178.60" stroke="#ff1a1a" stroke-width="1.1"/>
<line x1="602.60" y1="175.40" x2="602.60" y2="178.60" stroke="#ff1a1a" stroke-width="1.1"/>
<line x1="554.70" y1="155.30" x2="554.70" y2="191.20" stroke="#ff1a1a" stroke-width="1.1"/>
<line x1="528.70" y1="173.40" x2="611.50" y2="173.40" stroke="#ff1a1a" stroke-width="1.1"/>
<line x1="553.10" y1="155.30" x2="556.30" y2="155.30" stroke="#ff1a1a" stroke-width="1.1"/>
<line x1="553.10" y1="191.20" x2="556.30" y2="191.20" stroke="#ff1a1a" stroke-width="1.1"/>
<line x1="528.70" y1="171.80" x2="528.70" y2="175.00" stroke="#ff1a1a" stroke-width="1.1"/>
<line x1="611.50" y1="171.80" x2="611.50" y2="175.00" stroke="#ff1a1a" stroke-width="1.1"/>
<line x1="545.70" y1="65.40" x2="545.70" y2="145.60" stroke="#3ccc3c" stroke-width="1.1"/>
<line x1="508.70" y1="105.50" x2="593.50" y2="105.50" stroke="#3ccc3c" stroke-width="1.1"/>
<line x1="544.10" y1="65.40" x2="547.30" y2="65.40" stroke="#3ccc3c" stroke-width="1.1"/>
<line x1="544.10" y1="145.60" x2="547.30" y2="145.60" stroke="#3ccc3c" stroke-width="1.1"/>
<line x1="508.70" y1="103.90" x2="508.70" y2="107.10" stroke="#3ccc3c" stroke-width="1.1"/>
<line x1="593.50" y1="103.90" x2="593.50" y2="107.10" stroke="#3ccc3c" stroke-width="1.1"/>
<line x1="551.30" y1="58.30" x2="551.30" y2="149.50" stroke="#3ccc3c" stroke-width="1.1"/>
<line x1="515.00" y1="104.10" x2="601.00" y2="104.10" stroke="#3ccc3c" stroke-width="1.1"/>
<line x1="549.70" y1="58.30" x2="552.90" y2="58.30" stroke="#3ccc3c" stroke-width="1.1"/>
<line x1="549.70" y1="149.50" x2="552.90" y2="149.50" stroke="#3ccc3c" stroke-width="1.1"/>
<line x1="515.00" y1="102.50" x2="515.00" y2="105.70" stroke="#3ccc3c" stroke-width="1.1"/>
<line x1="601.00" y1="102.50" x2="601.00" y2="105.70" stroke="#3ccc3c" stroke-width="1.1"/>
<line x1="543.60" y1="166.40" x2="543.60" y2="195.40" stroke="#a83cf0" stroke-width="1.1"/>
<line x1="499.90" y1="180.80" x2="591.90" y2="180.80" stroke="#a83cf0" stroke-width="1.1"/>
<line x1="542.00" y1="166.40" x2="545.20" y2="166.40" stroke="#a83cf0" stroke-width="1.1"/>
<line x1="542.00" y1="195.40" x2="545.20" y2="195.40" stroke="#a83cf0" stroke-width="1.1"/>
<line x1="499.90" y1="179.20" x2="499.90" y2="182.40" stroke="#a83cf0" stroke-width="1.1"/>
<line x1="591.90" y1="179.20" x2="591.90" y2="182.40" stroke="#a83cf0" stroke-width="1.1"/>
<line x1="564.30" y1="155.60" x2="564.30" y2="190.40" stroke="#a83cf0" stroke-width="1.1"/>
<line x1="517.50" y1="173.60" x2="610.00" y2="173.60" stroke="#a83cf0" stroke-width="1.1"/>
<line x1="562.70" y1="155.60" x2="565.90" y2="155.60" stroke="#a83cf0" stroke-width="1.1"/>
<line x1="562.70" y1="190.40" x2="565.90" y2="190.40" stroke="#a83cf0" stroke-width="1.1"/>
<line x1="517.50" y1="172.00" x2="517.50" y2="175.20" stroke="#a83cf0" stroke-width="1.1"/>
<line x1="610.00" y1="172.00" x2="610.00" y2="175.20" stroke="#a83cf0" stroke-width="1.1"/>
<path d="M520.4,162.5L525.2,167.3M520.4,167.3L525.2,162.5" stroke="#d9955a" stroke-width="1.1" fill="none"/>
<path d="M534.0,154.7L538.8,159.5M534.0,159.5L538.8,154.7" stroke="#d9955a" stroke-width="1.1" fill="none"/>
<path d="M553.9,158.5L558.7,163.3M553.9,163.3L558.7,158.5" stroke="#d9955a" stroke-width="1.1" fill="none"/>
<path d="M549.2,174.8L554.0,179.2L554.0,174.8L549.2,179.2Z" stroke="#ff1a1a" stroke-width="1.1" fill="none" stroke-linejoin="bevel"/>
<path d="M552.3,171.2L557.1,175.6L557.1,171.2L552.3,175.6Z" stroke="#ff1a1a" stroke-width="1.1" fill="none" stroke-linejoin="bevel"/>
<path d="M545.7,103.0L548.2,105.5L545.7,108.0L543.2,105.5Z" stroke="#3ccc3c" stroke-width="1.5" fill="none"/>
<path d="M551.3,101.6L553.8,104.1L551.3,106.6L548.8,104.1Z" stroke="#3ccc3c" stroke-width="1.5" fill="none"/>
<path d="M543.6,178.4L545.9,182.8L541.3,182.8Z" stroke="#a83cf0" stroke-width="1.1" fill="none" stroke-linejoin="bevel"/>
<path d="M564.3,171.2L566.6,175.6L562.0,175.6Z" stroke="#a83cf0" stroke-width="1.1" fill="none" stroke-linejoin="bevel"/>
<line x1="179.3" y1="105.4" x2="187.6" y2="97.5" stroke="#000" stroke-width="1.3"/>
<path d="M180.4,104.4L184.1,103.0L185.9,99.1L181.9,100.7Z" fill="#000"/>
<line x1="199.3" y1="109.5" x2="207.6" y2="101.7" stroke="#000" stroke-width="1.3"/>
<path d="M200.4,108.5L204.1,107.2L205.9,103.3L201.9,104.8Z" fill="#000"/>
<line x1="540.0" y1="153.6" x2="548.4" y2="145.4" stroke="#000" stroke-width="1.3"/>
<path d="M541.1,152.6L544.9,151.1L546.7,147.0L542.7,148.8Z" fill="#000"/>
<line x1="559.6" y1="157.8" x2="568.1" y2="149.4" stroke="#000" stroke-width="1.3"/>
<path d="M560.7,156.7L564.5,155.2L566.4,151.1L562.3,152.9Z" fill="#000"/>
<path d="M66.6,51.5L71.2,56.1M66.6,56.1L71.2,51.5" stroke="#d9955a" stroke-width="1.1" fill="none"/>
<path d="M66.6,63.8L71.2,68.0L71.2,63.8L66.6,68.0Z" stroke="#ff1a1a" stroke-width="1.1" fill="none" stroke-linejoin="bevel"/>
<path d="M68.9,75.7L71.2,78.0L68.9,80.3L66.6,78.0Z" stroke="#3ccc3c" stroke-width="1.5" fill="none"/>
<path d="M68.9,87.8L71.1,92.1L66.7,92.1Z" stroke="#a83cf0" stroke-width="1.1" fill="none" stroke-linejoin="bevel"/>
<text x="76.20" y="57.30" font-size="10" text-anchor="start" font-weight="normal" fill="#1c1c1c" textLength="50.3" lengthAdjust="spacingAndGlyphs">Murchison</text>
<text x="76.20" y="69.10" font-size="10" text-anchor="start" font-weight="normal" fill="#1c1c1c" textLength="49.2" lengthAdjust="spacingAndGlyphs">Ningqiang</text>
<text x="76.20" y="81.20" font-size="10" text-anchor="start" font-weight="normal" fill="#1c1c1c" textLength="29.0" lengthAdjust="spacingAndGlyphs">Lanc&#233;</text>
<text x="76.20" y="93.00" font-size="10" text-anchor="start" font-weight="normal" fill="#1c1c1c" textLength="47.2" lengthAdjust="spacingAndGlyphs">Karoonda</text>
<path d="M427.7,51.5L432.3,56.1M427.7,56.1L432.3,51.5" stroke="#d9955a" stroke-width="1.1" fill="none"/>
<path d="M427.7,63.8L432.3,68.0L432.3,63.8L427.7,68.0Z" stroke="#ff1a1a" stroke-width="1.1" fill="none" stroke-linejoin="bevel"/>
<path d="M430.0,75.7L432.3,78.0L430.0,80.3L427.7,78.0Z" stroke="#3ccc3c" stroke-width="1.5" fill="none"/>
<path d="M430.0,87.8L432.2,92.1L427.8,92.1Z" stroke="#a83cf0" stroke-width="1.1" fill="none" stroke-linejoin="bevel"/>
<text x="437.30" y="57.30" font-size="10" text-anchor="start" font-weight="normal" fill="#1c1c1c" textLength="50.3" lengthAdjust="spacingAndGlyphs">Murchison</text>
<text x="437.30" y="69.10" font-size="10" text-anchor="start" font-weight="normal" fill="#1c1c1c" textLength="49.2" lengthAdjust="spacingAndGlyphs">Ningqiang</text>
<text x="437.30" y="81.20" font-size="10" text-anchor="start" font-weight="normal" fill="#1c1c1c" textLength="29.0" lengthAdjust="spacingAndGlyphs">Lanc&#233;</text>
<text x="437.30" y="93.00" font-size="10" text-anchor="start" font-weight="normal" fill="#1c1c1c" textLength="47.2" lengthAdjust="spacingAndGlyphs">Karoonda</text>
<rect x="50.30" y="304.10" width="288.70" height="180.10" fill="none" stroke="#2a2a2a" stroke-width="1.1"/>
<line x1="54.90" y1="484.20" x2="54.90" y2="482.20" stroke="#2a2a2a" stroke-width="1"/>
<line x1="59.17" y1="484.20" x2="59.17" y2="482.20" stroke="#2a2a2a" stroke-width="1"/>
<line x1="63.00" y1="484.20" x2="63.00" y2="480.70" stroke="#2a2a2a" stroke-width="1"/>
<line x1="88.17" y1="484.20" x2="88.17" y2="482.20" stroke="#2a2a2a" stroke-width="1"/>
<line x1="102.89" y1="484.20" x2="102.89" y2="482.20" stroke="#2a2a2a" stroke-width="1"/>
<line x1="113.33" y1="484.20" x2="113.33" y2="482.20" stroke="#2a2a2a" stroke-width="1"/>
<line x1="121.43" y1="484.20" x2="121.43" y2="482.20" stroke="#2a2a2a" stroke-width="1"/>
<line x1="128.05" y1="484.20" x2="128.05" y2="482.20" stroke="#2a2a2a" stroke-width="1"/>
<line x1="133.65" y1="484.20" x2="133.65" y2="482.20" stroke="#2a2a2a" stroke-width="1"/>
<line x1="138.50" y1="484.20" x2="138.50" y2="482.20" stroke="#2a2a2a" stroke-width="1"/>
<line x1="142.77" y1="484.20" x2="142.77" y2="482.20" stroke="#2a2a2a" stroke-width="1"/>
<line x1="146.60" y1="484.20" x2="146.60" y2="480.70" stroke="#2a2a2a" stroke-width="1"/>
<line x1="171.77" y1="484.20" x2="171.77" y2="482.20" stroke="#2a2a2a" stroke-width="1"/>
<line x1="186.49" y1="484.20" x2="186.49" y2="482.20" stroke="#2a2a2a" stroke-width="1"/>
<line x1="196.93" y1="484.20" x2="196.93" y2="482.20" stroke="#2a2a2a" stroke-width="1"/>
<line x1="205.03" y1="484.20" x2="205.03" y2="482.20" stroke="#2a2a2a" stroke-width="1"/>
<line x1="211.65" y1="484.20" x2="211.65" y2="482.20" stroke="#2a2a2a" stroke-width="1"/>
<line x1="217.25" y1="484.20" x2="217.25" y2="482.20" stroke="#2a2a2a" stroke-width="1"/>
<line x1="222.10" y1="484.20" x2="222.10" y2="482.20" stroke="#2a2a2a" stroke-width="1"/>
<line x1="226.37" y1="484.20" x2="226.37" y2="482.20" stroke="#2a2a2a" stroke-width="1"/>
<line x1="230.20" y1="484.20" x2="230.20" y2="480.70" stroke="#2a2a2a" stroke-width="1"/>
<line x1="255.37" y1="484.20" x2="255.37" y2="482.20" stroke="#2a2a2a" stroke-width="1"/>
<line x1="270.09" y1="484.20" x2="270.09" y2="482.20" stroke="#2a2a2a" stroke-width="1"/>
<line x1="280.53" y1="484.20" x2="280.53" y2="482.20" stroke="#2a2a2a" stroke-width="1"/>
<line x1="288.63" y1="484.20" x2="288.63" y2="482.20" stroke="#2a2a2a" stroke-width="1"/>
<line x1="295.25" y1="484.20" x2="295.25" y2="482.20" stroke="#2a2a2a" stroke-width="1"/>
<line x1="300.85" y1="484.20" x2="300.85" y2="482.20" stroke="#2a2a2a" stroke-width="1"/>
<line x1="305.70" y1="484.20" x2="305.70" y2="482.20" stroke="#2a2a2a" stroke-width="1"/>
<line x1="309.97" y1="484.20" x2="309.97" y2="482.20" stroke="#2a2a2a" stroke-width="1"/>
<line x1="313.80" y1="484.20" x2="313.80" y2="480.70" stroke="#2a2a2a" stroke-width="1"/>
<line x1="54.23" y1="304.10" x2="54.23" y2="307.60" stroke="#2a2a2a" stroke-width="1"/>
<line x1="104.56" y1="304.10" x2="104.56" y2="306.10" stroke="#2a2a2a" stroke-width="1"/>
<line x1="134.00" y1="304.10" x2="134.00" y2="306.10" stroke="#2a2a2a" stroke-width="1"/>
<line x1="154.89" y1="304.10" x2="154.89" y2="306.10" stroke="#2a2a2a" stroke-width="1"/>
<line x1="171.10" y1="304.10" x2="171.10" y2="306.10" stroke="#2a2a2a" stroke-width="1"/>
<line x1="184.34" y1="304.10" x2="184.34" y2="306.10" stroke="#2a2a2a" stroke-width="1"/>
<line x1="195.53" y1="304.10" x2="195.53" y2="306.10" stroke="#2a2a2a" stroke-width="1"/>
<line x1="205.23" y1="304.10" x2="205.23" y2="306.10" stroke="#2a2a2a" stroke-width="1"/>
<line x1="213.78" y1="304.10" x2="213.78" y2="306.10" stroke="#2a2a2a" stroke-width="1"/>
<line x1="221.43" y1="304.10" x2="221.43" y2="307.60" stroke="#2a2a2a" stroke-width="1"/>
<line x1="271.76" y1="304.10" x2="271.76" y2="306.10" stroke="#2a2a2a" stroke-width="1"/>
<line x1="301.20" y1="304.10" x2="301.20" y2="306.10" stroke="#2a2a2a" stroke-width="1"/>
<line x1="322.09" y1="304.10" x2="322.09" y2="306.10" stroke="#2a2a2a" stroke-width="1"/>
<line x1="338.30" y1="304.10" x2="338.30" y2="306.10" stroke="#2a2a2a" stroke-width="1"/>
<line x1="50.30" y1="484.20" x2="55.30" y2="484.20" stroke="#2a2a2a" stroke-width="1"/>
<line x1="339.00" y1="484.20" x2="334.00" y2="484.20" stroke="#2a2a2a" stroke-width="1"/>
<line x1="50.30" y1="448.18" x2="55.30" y2="448.18" stroke="#2a2a2a" stroke-width="1"/>
<line x1="339.00" y1="448.18" x2="334.00" y2="448.18" stroke="#2a2a2a" stroke-width="1"/>
<line x1="50.30" y1="412.16" x2="55.30" y2="412.16" stroke="#2a2a2a" stroke-width="1"/>
<line x1="339.00" y1="412.16" x2="334.00" y2="412.16" stroke="#2a2a2a" stroke-width="1"/>
<line x1="50.30" y1="376.14" x2="55.30" y2="376.14" stroke="#2a2a2a" stroke-width="1"/>
<line x1="339.00" y1="376.14" x2="334.00" y2="376.14" stroke="#2a2a2a" stroke-width="1"/>
<line x1="50.30" y1="340.12" x2="55.30" y2="340.12" stroke="#2a2a2a" stroke-width="1"/>
<line x1="339.00" y1="340.12" x2="334.00" y2="340.12" stroke="#2a2a2a" stroke-width="1"/>
<line x1="50.30" y1="304.10" x2="55.30" y2="304.10" stroke="#2a2a2a" stroke-width="1"/>
<line x1="339.00" y1="304.10" x2="334.00" y2="304.10" stroke="#2a2a2a" stroke-width="1"/>
<line x1="50.30" y1="475.19" x2="52.80" y2="475.19" stroke="#2a2a2a" stroke-width="1"/>
<line x1="339.00" y1="475.19" x2="336.50" y2="475.19" stroke="#2a2a2a" stroke-width="1"/>
<line x1="50.30" y1="466.19" x2="52.80" y2="466.19" stroke="#2a2a2a" stroke-width="1"/>
<line x1="339.00" y1="466.19" x2="336.50" y2="466.19" stroke="#2a2a2a" stroke-width="1"/>
<line x1="50.30" y1="457.19" x2="52.80" y2="457.19" stroke="#2a2a2a" stroke-width="1"/>
<line x1="339.00" y1="457.19" x2="336.50" y2="457.19" stroke="#2a2a2a" stroke-width="1"/>
<line x1="50.30" y1="439.18" x2="52.80" y2="439.18" stroke="#2a2a2a" stroke-width="1"/>
<line x1="339.00" y1="439.18" x2="336.50" y2="439.18" stroke="#2a2a2a" stroke-width="1"/>
<line x1="50.30" y1="430.17" x2="52.80" y2="430.17" stroke="#2a2a2a" stroke-width="1"/>
<line x1="339.00" y1="430.17" x2="336.50" y2="430.17" stroke="#2a2a2a" stroke-width="1"/>
<line x1="50.30" y1="421.16" x2="52.80" y2="421.16" stroke="#2a2a2a" stroke-width="1"/>
<line x1="339.00" y1="421.16" x2="336.50" y2="421.16" stroke="#2a2a2a" stroke-width="1"/>
<line x1="50.30" y1="403.15" x2="52.80" y2="403.15" stroke="#2a2a2a" stroke-width="1"/>
<line x1="339.00" y1="403.15" x2="336.50" y2="403.15" stroke="#2a2a2a" stroke-width="1"/>
<line x1="50.30" y1="394.15" x2="52.80" y2="394.15" stroke="#2a2a2a" stroke-width="1"/>
<line x1="339.00" y1="394.15" x2="336.50" y2="394.15" stroke="#2a2a2a" stroke-width="1"/>
<line x1="50.30" y1="385.14" x2="52.80" y2="385.14" stroke="#2a2a2a" stroke-width="1"/>
<line x1="339.00" y1="385.14" x2="336.50" y2="385.14" stroke="#2a2a2a" stroke-width="1"/>
<line x1="50.30" y1="367.13" x2="52.80" y2="367.13" stroke="#2a2a2a" stroke-width="1"/>
<line x1="339.00" y1="367.13" x2="336.50" y2="367.13" stroke="#2a2a2a" stroke-width="1"/>
<line x1="50.30" y1="358.13" x2="52.80" y2="358.13" stroke="#2a2a2a" stroke-width="1"/>
<line x1="339.00" y1="358.13" x2="336.50" y2="358.13" stroke="#2a2a2a" stroke-width="1"/>
<line x1="50.30" y1="349.12" x2="52.80" y2="349.12" stroke="#2a2a2a" stroke-width="1"/>
<line x1="339.00" y1="349.12" x2="336.50" y2="349.12" stroke="#2a2a2a" stroke-width="1"/>
<line x1="50.30" y1="331.12" x2="52.80" y2="331.12" stroke="#2a2a2a" stroke-width="1"/>
<line x1="339.00" y1="331.12" x2="336.50" y2="331.12" stroke="#2a2a2a" stroke-width="1"/>
<line x1="50.30" y1="322.11" x2="52.80" y2="322.11" stroke="#2a2a2a" stroke-width="1"/>
<line x1="339.00" y1="322.11" x2="336.50" y2="322.11" stroke="#2a2a2a" stroke-width="1"/>
<line x1="50.30" y1="313.11" x2="52.80" y2="313.11" stroke="#2a2a2a" stroke-width="1"/>
<line x1="339.00" y1="313.11" x2="336.50" y2="313.11" stroke="#2a2a2a" stroke-width="1"/>
<text x="125.80" y="283.90" font-size="11" font-weight="normal" fill="#1c1c1c" textLength="46.9" lengthAdjust="spacingAndGlyphs">Inclusion</text>
<text x="178.80" y="283.90" font-size="11" font-weight="normal" fill="#1c1c1c" textLength="48.1" lengthAdjust="spacingAndGlyphs">diameter</text>
<text x="233.70" y="283.90" font-size="11" font-weight="normal" fill="#1c1c1c" textLength="29.8" lengthAdjust="spacingAndGlyphs">[mm]</text>
<text x="45.30" y="298.70" font-size="11" text-anchor="start" font-weight="normal" fill="#1c1c1c" textLength="15.0" lengthAdjust="spacing">0.1</text>
<text x="213.00" y="299.00" font-size="11" text-anchor="start" font-weight="normal" fill="#1c1c1c" textLength="16.4" lengthAdjust="spacing">1.0</text>
<text x="46.10" y="452.78" font-size="11" text-anchor="end" font-weight="normal" fill="#1c1c1c" textLength="13.7" lengthAdjust="spacing">20</text>
<text x="46.10" y="416.76" font-size="11" text-anchor="end" font-weight="normal" fill="#1c1c1c" textLength="13.7" lengthAdjust="spacing">40</text>
<text x="46.10" y="380.74" font-size="11" text-anchor="end" font-weight="normal" fill="#1c1c1c" textLength="13.7" lengthAdjust="spacing">60</text>
<text x="46.10" y="344.72" font-size="11" text-anchor="end" font-weight="normal" fill="#1c1c1c" textLength="13.7" lengthAdjust="spacing">80</text>
<text x="46.10" y="311.80" font-size="11" text-anchor="end" font-weight="normal" fill="#1c1c1c" textLength="19.2" lengthAdjust="spacing">100</text>
<text x="46.10" y="484.40" font-size="11" text-anchor="end" font-weight="normal" fill="#1c1c1c" textLength="5.8" lengthAdjust="spacing">0</text>
<text x="50.00" y="500.60" font-size="11" text-anchor="start" font-weight="normal" fill="#1c1c1c" textLength="23.0" lengthAdjust="spacing">0.01</text>
<text x="134.00" y="500.60" font-size="11" text-anchor="start" font-weight="normal" fill="#1c1c1c" textLength="24.2" lengthAdjust="spacing">0.10</text>
<text x="217.60" y="500.60" font-size="11" text-anchor="start" font-weight="normal" fill="#1c1c1c" textLength="23.4" lengthAdjust="spacing">1.00</text>
<text x="297.60" y="500.60" font-size="11" text-anchor="start" font-weight="normal" fill="#1c1c1c" textLength="31.2" lengthAdjust="spacing">10.00</text>
<text x="134.50" y="515.10" font-size="11" font-weight="normal" fill="#1c1c1c" textLength="46.9" lengthAdjust="spacingAndGlyphs">Inclusion</text>
<text x="188.30" y="515.10" font-size="11" font-weight="normal" fill="#1c1c1c" textLength="24.2" lengthAdjust="spacingAndGlyphs">area</text>
<text x="218.60" y="515.10" font-size="11" font-weight="normal" fill="#1c1c1c" textLength="34.1" lengthAdjust="spacingAndGlyphs">[mm&#178;]</text>
<text transform="translate(15.40,459.30) rotate(-90)" font-size="11" fill="#1c1c1c" textLength="60.1" lengthAdjust="spacingAndGlyphs">Cumulative</text>
<text transform="translate(15.40,394.40) rotate(-90)" font-size="11" fill="#1c1c1c" textLength="42.5" lengthAdjust="spacingAndGlyphs">number</text>
<text transform="translate(15.40,346.30) rotate(-90)" font-size="11" fill="#1c1c1c" textLength="17.6" lengthAdjust="spacingAndGlyphs">[%]</text>
<clipPath id="cc"><rect x="50.3" y="303.1" width="288.7" height="181.09999999999997"/></clipPath>
<g clip-path="url(#cc)">
<polyline points="80.4,308.1 86.4,309.8 88.1,311.6 99.2,312.0 102.7,312.8 105.2,314.6 110.4,321.4 113.8,326.5 122.8,334.2 127.1,342.8 132.7,355.0 135.7,360.0 139.2,375.0 144.2,390.0 150.7,405.0 154.6,420.0 161.0,435.0 170.7,450.0 178.5,460.0 188.5,470.0 197.1,477.0 210.0,481.0 230.0,483.5" fill="none" stroke="#e0a070" stroke-width="1.1" stroke-linejoin="round" stroke-dasharray="1.1 2.3"/>
<polyline points="113.0,322.0 118.0,329.0 124.0,336.0 130.0,344.0 137.0,352.0 143.0,360.0 150.7,375.0 157.1,390.0 164.2,405.0 172.1,420.0 180.0,435.0 189.0,449.0 196.9,458.6 205.0,466.0 215.0,474.0 230.0,480.0 260.0,483.5" fill="none" stroke="#e0a070" stroke-width="1.1" stroke-linejoin="round" stroke-dasharray="1.1 2.3"/>
<polyline points="72.1,304.1 72.1,310.8 75.4,311.6 75.4,319.6 77.4,320.5 77.8,323.2 95.4,324.0 97.1,325.7 97.5,329.5 99.2,330.8 99.7,334.2 101.2,339.4 104.2,344.2 111.3,345.4 113.8,349.7 116.4,358.3 120.7,361.7 122.4,364.2 124.5,370.0 125.7,375.0 133.5,390.0 140.7,405.0 149.3,420.0 156.8,435.0 167.0,450.0 175.5,460.0 186.0,470.0 197.0,477.0 208.5,481.0 225.0,483.3 250.0,484.1" fill="none" stroke="#d9955a" stroke-width="1.0" stroke-linejoin="round"/>
<polyline points="81.6,307.0 100.2,307.7 106.3,314.7 114.8,314.7 116.4,318.5 118.7,327.0 125.6,328.6 127.2,335.5 131.8,341.1 135.2,345.4 136.1,351.4 141.2,360.0 145.5,370.0 148.5,375.0 155.5,390.0 163.5,405.0 171.4,420.0 176.0,432.0 186.0,446.0 198.0,456.0 204.0,463.0 210.0,468.0 216.0,474.0 226.0,478.0 240.0,480.5 262.0,482.8 285.0,484.2" fill="none" stroke="#ff1a1a" stroke-width="1.0" stroke-linejoin="round"/>
<polyline points="79.6,303.9 81.3,306.4 101.0,306.8 103.5,311.1 106.1,314.6 114.7,315.0 116.4,317.1 116.4,320.1 118.1,330.0 123.3,333.4 129.2,339.4 127.5,347.1 131.0,353.1 136.1,358.3 142.1,364.2 144.7,370.0 147.8,375.0 154.2,390.0 165.0,405.0 175.5,420.0 184.0,430.0 192.0,440.0 200.0,454.0 204.0,462.0 214.0,467.0 224.0,473.0 228.0,478.0 238.0,479.5 250.0,481.5 280.0,484.2" fill="none" stroke="#ff1a1a" stroke-width="1.0" stroke-linejoin="round"/>
<polyline points="72.3,303.6 77.0,305.6 81.3,307.7 99.2,308.1 101.8,311.1 105.2,315.4 107.8,318.4 113.8,319.7 116.4,321.4 119.8,327.4 123.0,330.5 126.7,335.1 129.2,343.7 133.5,351.4 137.5,360.0 141.2,370.0 144.5,375.0 151.4,390.0 158.0,405.0 164.3,420.0 168.0,432.0 174.0,444.0 182.0,454.0 190.0,464.0 198.0,472.0 206.0,477.0 216.0,480.0 234.0,483.0 274.0,484.2" fill="none" stroke="#3ccc3c" stroke-width="1.0" stroke-linejoin="round"/>
<polyline points="72.3,303.6 78.0,306.0 98.5,308.6 104.2,314.3 108.5,320.0 114.2,321.4 118.5,328.5 124.1,331.7 131.0,341.1 136.1,351.4 142.5,360.0 147.2,370.0 148.5,375.0 155.6,390.0 162.8,405.0 170.0,420.0 176.0,436.0 184.0,450.0 192.0,462.0 202.0,473.0 210.0,478.0 220.0,481.0 240.0,483.5 274.0,484.2" fill="none" stroke="#3ccc3c" stroke-width="1.0" stroke-linejoin="round"/>
<polyline points="81.3,305.1 104.4,306.0 106.1,309.4 107.8,318.8 109.5,320.1 115.5,320.5 118.1,325.7 121.5,334.2 125.8,337.7 129.2,340.3 132.7,348.0 137.0,355.7 139.5,366.0 142.1,375.0 148.5,390.0 154.6,405.0 163.5,420.0 170.0,432.0 176.0,446.0 186.0,453.0 196.0,458.0 204.0,467.0 210.0,474.0 218.0,478.0 230.0,481.0 250.0,483.0 268.0,484.1" fill="none" stroke="#a83cf0" stroke-width="1.0" stroke-linejoin="round"/>
<polyline points="78.0,303.8 108.0,304.6 111.5,310.0 121.0,311.3 124.0,316.5 127.5,321.7 131.9,323.9 135.3,332.1 139.7,337.3 141.4,338.2 148.3,344.4 150.7,351.4 154.5,360.0 158.4,370.0 159.5,375.0 165.6,390.0 170.7,405.0 175.7,420.0 180.0,432.0 186.0,444.0 194.0,456.0 202.0,464.0 210.0,469.0 220.0,471.0 226.0,476.0 234.0,480.0 250.0,482.0 270.0,484.1" fill="none" stroke="#a83cf0" stroke-width="1.0" stroke-linejoin="round"/>
</g>
<text x="170.30" y="328.00" font-size="10" font-weight="normal" fill="#1c1c1c" textLength="52.3" lengthAdjust="spacingAndGlyphs">Murchison</text>
<text x="227.30" y="328.00" font-size="10" font-weight="normal" fill="#1c1c1c" textLength="28.0" lengthAdjust="spacingAndGlyphs">same</text>
<text x="260.50" y="328.00" font-size="10" font-weight="normal" fill="#1c1c1c" textLength="38.7" lengthAdjust="spacingAndGlyphs">surface</text>
<text x="298.80" y="340.00" font-size="10" text-anchor="end" font-weight="normal" fill="#1c1c1c" textLength="51.0" lengthAdjust="spacingAndGlyphs">Murchison</text>
<text x="298.80" y="352.30" font-size="10" text-anchor="end" font-weight="normal" fill="#1c1c1c" textLength="50.0" lengthAdjust="spacingAndGlyphs">Ningqiang</text>
<text x="298.80" y="364.00" font-size="10" text-anchor="end" font-weight="normal" fill="#1c1c1c" textLength="29.7" lengthAdjust="spacingAndGlyphs">Lanc&#233;</text>
<text x="298.80" y="376.00" font-size="10" text-anchor="end" font-weight="normal" fill="#1c1c1c" textLength="48.4" lengthAdjust="spacingAndGlyphs">Karoonda</text>
<line x1="307.00" y1="325.00" x2="320.00" y2="325.00" stroke="#e0a070" stroke-width="1.2" stroke-dasharray="1.2 1.8"/>
<line x1="307.00" y1="337.00" x2="320.00" y2="337.00" stroke="#d9955a" stroke-width="1.2"/>
<line x1="307.00" y1="349.00" x2="320.00" y2="349.00" stroke="#ff1a1a" stroke-width="1.2"/>
<line x1="307.00" y1="361.00" x2="320.00" y2="361.00" stroke="#3ccc3c" stroke-width="1.2"/>
<line x1="307.00" y1="373.00" x2="320.00" y2="373.00" stroke="#a83cf0" stroke-width="1.2"/>
<rect x="411.8" y="303.8" width="288.2" height="18.0" fill="#c0c0c0"/>
<line x1="411.00" y1="303.80" x2="700.80" y2="303.80" stroke="#1a1a1a" stroke-width="1.6"/>
<line x1="411.00" y1="321.80" x2="700.80" y2="321.80" stroke="#1a1a1a" stroke-width="2.2"/>
<line x1="411.00" y1="339.90" x2="700.80" y2="339.90" stroke="#1a1a1a" stroke-width="1.6"/>
<line x1="411.00" y1="358.00" x2="700.80" y2="358.00" stroke="#1a1a1a" stroke-width="1.6"/>
<line x1="411.00" y1="376.20" x2="700.80" y2="376.20" stroke="#1a1a1a" stroke-width="1.6"/>
<line x1="411.00" y1="393.60" x2="700.80" y2="393.60" stroke="#1a1a1a" stroke-width="1.6"/>
<line x1="411.80" y1="303.80" x2="411.80" y2="393.60" stroke="#1a1a1a" stroke-width="1.6"/>
<line x1="700.00" y1="303.80" x2="700.00" y2="393.60" stroke="#1a1a1a" stroke-width="1.6"/>
<line x1="556.30" y1="303.80" x2="556.30" y2="393.60" stroke="#1a1a1a" stroke-width="1.6"/>
<text x="416.00" y="316.40" font-size="11" text-anchor="start" font-weight="bold" fill="#111" textLength="50.2" lengthAdjust="spacing">Meteorite</text>
<text x="560.20" y="316.40" font-size="11" text-anchor="start" font-weight="bold" fill="#111" textLength="133.2" lengthAdjust="spacing">Matrix abundance [vol%]</text>
<text x="416.00" y="334.30" font-size="11" text-anchor="start" font-weight="bold" fill="#111" textLength="57.1" lengthAdjust="spacing">Murchison</text>
<text x="560.20" y="334.30" font-size="11" text-anchor="start" font-weight="bold" fill="#111" textLength="50.5" lengthAdjust="spacing">75.6 &#177; 6.5</text>
<text x="416.00" y="352.30" font-size="11" text-anchor="start" font-weight="bold" fill="#111" textLength="55.2" lengthAdjust="spacing">Ningqiang</text>
<text x="560.20" y="352.30" font-size="11" text-anchor="start" font-weight="bold" fill="#111" textLength="49.8" lengthAdjust="spacing">81.0 &#177; 1.7</text>
<text x="416.00" y="370.50" font-size="11" text-anchor="start" font-weight="bold" fill="#111" textLength="32.4" lengthAdjust="spacing">Lanc&#233;</text>
<text x="560.20" y="370.50" font-size="11" text-anchor="start" font-weight="bold" fill="#111" textLength="49.8" lengthAdjust="spacing">80.9 &#177; 1.9</text>
<text x="416.00" y="388.70" font-size="11" text-anchor="start" font-weight="bold" fill="#111" textLength="52.5" lengthAdjust="spacing">Karoonda</text>
<text x="560.20" y="388.70" font-size="11" text-anchor="start" font-weight="bold" fill="#111" textLength="50.5" lengthAdjust="spacing">94.7 &#177; 0.2</text>
</svg>
</body></html>
